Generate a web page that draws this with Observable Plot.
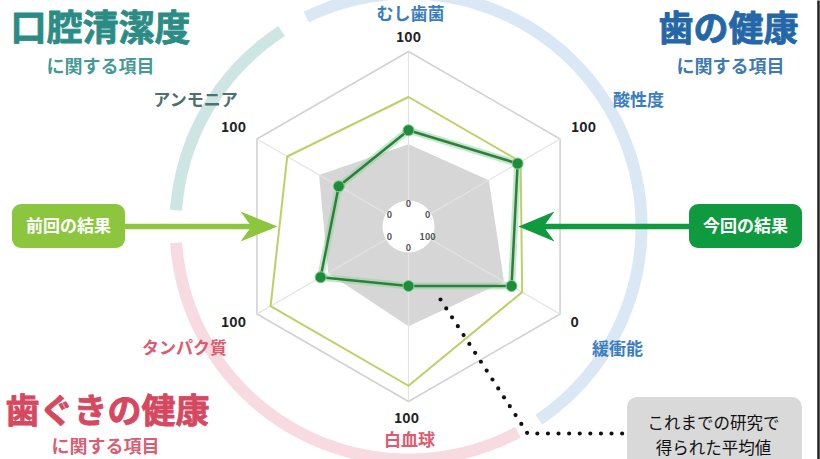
<!DOCTYPE html>
<html><head><meta charset="utf-8">
<script src="https://cdn.jsdelivr.net/npm/d3@7"></script>
<script src="https://cdn.jsdelivr.net/npm/@observablehq/plot@0.6"></script>
<style>html,body{margin:0;padding:0;background:#fff;}#chart{width:820px;height:459px;overflow:hidden;}</style>
</head><body><div id="chart"></div>
<script>
// ---- data ----
const axes = ["むし歯菌","酸性度","緩衝能","白血球","タンパク質","アンモニア"];
const outerTick = ["100","100","0","100","100","100"];
const innerTick = ["0","0","100","0","0","0"];
const current  = [55, 72, 32, 34, 58, 46];
const previous = [74, 74, 25, 91, 91, 80];
const average  = [47, 53, 37, 57, 53, 59];
const groupTitles = ["口腔清潔度","歯の健康","歯ぐきの健康"];
const groupSubtitle = "に関する項目";
const axisGroup = [1, 1, 1, 2, 2, 0];
const legendLabels = ["前回の結果","今回の結果"];
const averageNote = "これまでの研究で\n得られた平均値";

// ---- layout ----
const CX = 408, CY = 226, R = 175, RING = 233;
const P = (X, Y) => ({x: X - CX, y: CY - Y});
const groupColor = ["#2b8c85", "#2467a9", "#d5485f"];
const labelColor = ["#4e716e", "#3a7dbf", "#dd5a70"];
const arcColor = ["#cde6e3", "#dae8f5", "#f8dbe0"];
const arcSpan = [[274, 327], [334, 506], [152, 266]];
const namePos = [[410,14],[638,100],[617,349],[409,440],[184,348],[195,100]];
const tickPos = [[408,37],[583,127],[574,322],[406,418],[233,322],[233,127]];
const titlePos = [[100,29],[728,29],[107,412]];
const titleSize = [36, 35, 34];
const subPos = [[100,67],[730,67],[105,447]];

const frac = (v, i) => (v - +innerTick[i]) / (+outerTick[i] - +innerTick[i]);
const polar = (f, i) => { const a = i * Math.PI / 3; return {x: f * R * Math.sin(a), y: f * R * Math.cos(a)}; };
const poly = vals => vals.map((v, i) => ({axis: axes[i], value: v, ...polar(frac(v, i), i)}));

const arcs = arcSpan.flatMap(([a0, a1], g) =>
  d3.range(a0, a1 + 0.001, 1).map(d => ({g, color: arcColor[g],
    x: RING * Math.sin(d * Math.PI / 180), y: RING * Math.cos(d * Math.PI / 180)})));
const outerHex = axes.map((a, i) => polar(1, i));
const spokes = axes.map((a, i) => ({x1: 0, y1: 0, ...polar(1, i)}));
const innerLabels = axes.map((a, i) => ({t: innerTick[i], ...polar(22 / R, i)}));
const names = axes.map((a, i) => ({t: a, c: labelColor[axisGroup[i]], ...P(...namePos[i])}));
const ticks = axes.map((a, i) => ({t: outerTick[i], ...P(...tickPos[i])}));
const titles = groupTitles.map((t, i) => ({t, c: groupColor[i], s: titleSize[i], ...P(...titlePos[i])}));
const subs = groupTitles.map((t, i) => ({t: groupSubtitle, c: groupColor[i], ...P(...subPos[i])}));

const pts = a => a.map(p => P(...p));
const prevHead = pts([[277,226],[240,211],[251,226],[240,241]]);
const currHead = pts([[518,226],[554,211],[543,226],[554,241]]);
const prevShaft = pts([[125,226],[252,226]]);
const currShaft = pts([[543,226],[690,226]]);
const boxes = [
  {x1: 12 - CX, x2: 125 - CX, y1: CY - 204, y2: CY - 248, c: "#8cc63f"},
  {x1: 689 - CX, x2: 802 - CX, y1: CY - 204, y2: CY - 248, c: "#0f9a3f"}
];
const boxText = [{t: legendLabels[0], ...P(68, 226)}, {t: legendLabels[1], ...P(745, 226)}];
const noteBox = [{x1: 627 - CX, x2: 802 - CX, y1: CY - 397, y2: CY - 475}];
const dotted = pts([[440,299],[527,433],[624,433]]);

const FONT = "'Noto Sans CJK JP', 'Noto Sans', sans-serif";

const chart = Plot.plot({
  width: 820, height: 459, margin: 0,
  x: {domain: [-CX, 820 - CX], axis: null},
  y: {domain: [CY - 459, CY], axis: null},
  color: {type: "identity"},
  style: {fontFamily: FONT, background: "white", overflow: "hidden"},
  marks: [
    Plot.line(arcs, {x: "x", y: "y", z: "g", stroke: "color", strokeWidth: 12, strokeLinecap: "butt"}),
    Plot.line(outerHex, {x: "x", y: "y", curve: "linear-closed", stroke: "#d2d2d2", strokeWidth: 1.6}),
    Plot.line(poly(average), {x: "x", y: "y", curve: "linear-closed", fill: "#d6d6d6", stroke: "none"}),
    Plot.link(spokes, {x1: "x1", y1: "y1", x2: "x", y2: "y", stroke: "#e3e3e3", strokeWidth: 1.2}),
    Plot.dot([{x: 0, y: 0}], {x: "x", y: "y", r: 26, fill: "white", stroke: "none"}),
    Plot.text(innerLabels, {x: "x", y: "y", text: "t", fontSize: 9, fill: "#555", fontWeight: "bold"}),
    Plot.line(poly(previous), {x: "x", y: "y", curve: "linear-closed", stroke: "#bfcf68", strokeWidth: 2}),
    Plot.line(poly(current), {x: "x", y: "y", curve: "linear-closed", stroke: "#8fd69c", strokeWidth: 7, strokeOpacity: 0.55}),
    Plot.line(poly(current), {x: "x", y: "y", curve: "linear-closed", stroke: "#2f7e3d", strokeWidth: 2.5}),
    Plot.dot(poly(current), {x: "x", y: "y", r: 5.5, fill: "#1f8c3b", stroke: "#7fd08c", strokeWidth: 1}),
    Plot.text(names, {x: "x", y: "y", text: "t", fill: "c", fontSize: 17, fontWeight: "bold"}),
    Plot.text(ticks, {x: "x", y: "y", text: "t", fill: "#222", fontSize: 14, fontWeight: "bold"}),
    Plot.text(titles, {x: "x", y: "y", text: "t", fill: "c", stroke: "c", strokeWidth: 0.8, fontSize: "s", fontWeight: "bold"}),
    Plot.text(subs, {x: "x", y: "y", text: "t", fill: "c", fontSize: 18, fontWeight: "bold", fillOpacity: 0.9}),
    // arrows and legend boxes
    Plot.line(prevShaft, {x: "x", y: "y", stroke: "#8cc63f", strokeWidth: 5.5}),
    Plot.line(prevHead, {x: "x", y: "y", curve: "linear-closed", fill: "#8cc63f", stroke: "none"}),
    Plot.line(currShaft, {x: "x", y: "y", stroke: "#0f9a3f", strokeWidth: 5.5}),
    Plot.line(currHead, {x: "x", y: "y", curve: "linear-closed", fill: "#0f9a3f", stroke: "none"}),
    Plot.rect(boxes, {x1: "x1", x2: "x2", y1: "y1", y2: "y2", fill: "c", rx: 9}),
    Plot.text(boxText, {x: "x", y: "y", text: "t", fill: "white", fontSize: 17, fontWeight: "bold"}),
    // average callout
    Plot.line(dotted, {x: "x", y: "y", stroke: "#111", strokeWidth: 4.2, strokeLinecap: "round", strokeDasharray: "0 10.6"}),
    Plot.rect(noteBox, {x1: "x1", x2: "x2", y1: "y1", y2: "y2", fill: "#d9d9d9", rx: 10}),
    Plot.text([{t: averageNote, ...P(713, 433)}], {x: "x", y: "y", text: "t", fill: "#111", fontSize: 16.5, lineHeight: 1.5}),
    Plot.link([{x1: 818 - CX, x2: 818 - CX, y1: CY, y2: CY - 459}], {x1: "x1", x2: "x2", y1: "y1", y2: "y2", stroke: "#222", strokeWidth: 2.5})
  ]
});
document.getElementById("chart").append(chart);
</script></body></html>
